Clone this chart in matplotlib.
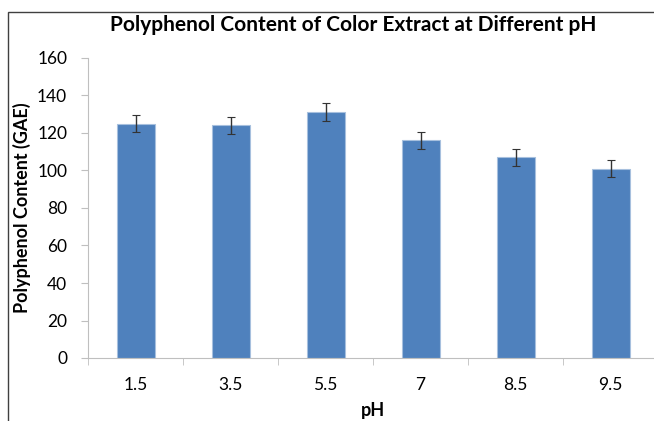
import matplotlib
matplotlib.use("Agg")
import matplotlib.pyplot as plt
from matplotlib.patches import Rectangle
import numpy as np

categories = ["1.5", "3.5", "5.5", "7", "8.5", "9.5"]
values = [125, 124, 131, 116, 107, 101]
errors = [4.7, 4.7, 4.8, 4.7, 4.6, 4.7]
yticks = [0, 20, 40, 60, 80, 100, 120, 140, 160]

plt.rcParams['font.family'] = ['Lato', 'DejaVu Sans']

W, H = 654, 421
fig = plt.figure(figsize=(W / 100, H / 100), dpi=100)

# outer frame
fig.patches.append(Rectangle((8 / W, -0.1), 1.2, 1 - 12 / H + 0.1, transform=fig.transFigure,
                             fill=False, edgecolor="#404040", linewidth=1.0))

ax = fig.add_axes([88 / W, 1 - 358 / H, 570 / W, 300 / H])
x = np.arange(len(categories))
ax.bar(x, values, width=0.4, color="#4F81BD", edgecolor="#A7C0DE", linewidth=0.8,
       yerr=errors, error_kw=dict(ecolor="#333333", elinewidth=1.0, capsize=3, capthick=0.8), zorder=2)

ax.set_xlim(-0.5, len(categories) - 0.5)
ax.set_ylim(0, 160)
ax.set_yticks(yticks)
ax.set_yticklabels([str(t) for t in yticks], fontsize=12.5)
ax.set_xticks(x)
ax.set_xticklabels(categories, fontsize=12.5)
ax.set_xticks(np.arange(-0.5, len(categories), 1), minor=True)
ax.tick_params(axis="x", which="major", length=0, pad=14)
ax.tick_params(axis="x", which="minor", length=5, color="#BFBFBF")
ax.tick_params(axis="y", length=5, color="#BFBFBF", pad=10)

for s in ["top", "right"]:
    ax.spines[s].set_visible(False)
ax.spines["left"].set_color("#BFBFBF")
ax.spines["bottom"].set_color("#BFBFBF")

ax.set_xlabel("pH", fontsize=13, fontweight="bold", labelpad=6)
ax.set_ylabel("Polyphenol Content (GAE)", fontsize=13, fontweight="bold", labelpad=4)
fig.text(353 / W, 1 - 25 / H, "Polyphenol Content of Color Extract at Different pH",
         ha="center", va="center", fontsize=15, fontweight="bold")

fig.savefig("out.png", dpi=100)
